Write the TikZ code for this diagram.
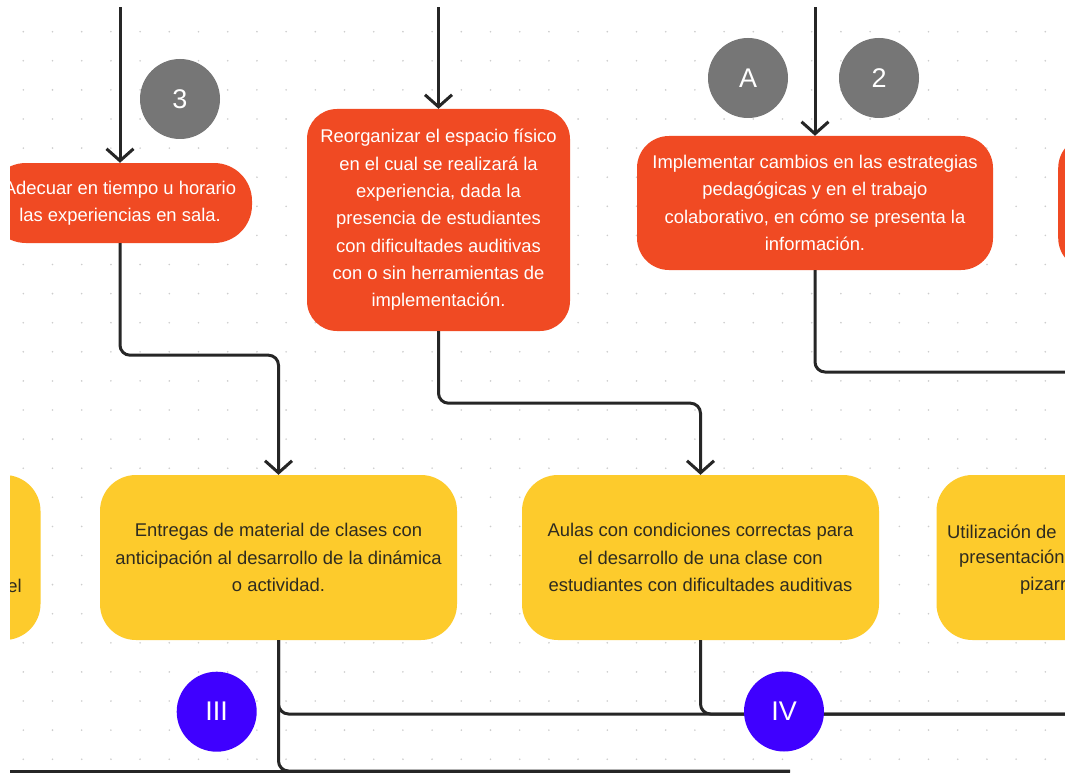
\documentclass[tikz,border=0pt]{standalone}
\usepackage{fontspec}
\setmainfont{Liberation Sans}
\usetikzlibrary{arrows.meta}
\definecolor{redc}{HTML}{F04A23}
\definecolor{yelc}{HTML}{FDCB2C}
\definecolor{grayc}{HTML}{767676}
\definecolor{bluec}{HTML}{3F00FF}
\definecolor{dotc}{HTML}{CDCDCD}
\definecolor{linec}{HTML}{262626}
\definecolor{txtd}{HTML}{2E2B20}
\begin{document}
\begin{tikzpicture}[x=1pt,y=-1pt,
  conn/.style={draw=linec, line width=3pt, rounded corners=10pt},
  arr/.style={conn, -{Straight Barb[length=12pt,width=27pt]}},
  redbox/.style={rectangle, rounded corners=30pt, fill=redc, text=white, align=center, inner sep=0pt, font={\fontsize{18.4pt}{27.3pt}\selectfont}},
  yelbox/.style={rectangle, rounded corners=36pt, fill=yelc, text=txtd, align=center, inner sep=0pt, minimum width=357pt, minimum height=165pt, font={\fontsize{18.4pt}{27.3pt}\selectfont}},
  yeltxt/.style={text=txtd, inner sep=0pt, font={\fontsize{18.4pt}{27.3pt}\selectfont}},
  badge/.style={circle, minimum size=80pt, inner sep=0pt, text=white, font={\fontsize{27pt}{32pt}\selectfont}},
]
\useasboundingbox[fill=white] (0,0) rectangle (1065,773);
\begin{scope}
\clip (10,8) rectangle (1065,773);
% dot grid
\foreach \i in {0,...,36} {
  \foreach \j in {0,...,26} {
    \fill[dotc] ({23.3+\i*29.2},{31.7+\j*29.1}) circle[radius=0.9pt];
  }
}
% boxes
\node[redbox, minimum width=264pt, minimum height=80pt, rounded corners=38pt] (adecuar) at (120,203) {Adecuar en tiempo u horario\\las experiencias en sala.};
\node[redbox, minimum width=263pt, minimum height=222pt] (reorg) at (438.5,220) {Reorganizar el espacio físico\\en el cual se realizará la\\experiencia, dada la\\presencia de estudiantes\\con dificultades auditivas\\con o sin herramientas de\\implementación.};
\node[redbox, minimum width=356pt, minimum height=134pt, rounded corners=32pt] (impl) at (815,203) {Implementar cambios en las estrategias\\pedagógicas y en el trabajo\\colaborativo, en cómo se presenta la\\información.};
\node[redbox, minimum width=356pt, minimum height=134pt, rounded corners=32pt, anchor=west] (redR) at (1058,203) {};

\node[yelbox] (yleft) at (-138,557.5) {};
\node[yeltxt, anchor=east] (yleftel) at (22,586) {el};
\node[yelbox] (entregas) at (278.5,557.5) {Entregas de material de clases con\\anticipación al desarrollo de la dinámica\\o actividad.};
\node[yelbox] (aulas) at (700.5,557.5) {Aulas con condiciones correctas para\\el desarrollo de una clase con\\estudiantes con dificultades auditivas};
\node[yelbox] (util) at (1115,557.5) {};
\node[yeltxt, anchor=west] (util1) at (947,532) {Utilización de};
\node[yeltxt, anchor=west] (util2) at (959,559) {presentación};
\node[yeltxt, anchor=west] (util3) at (1020,586) {pizarra};

% connector ends
\coordinate (s1) at (120,0);
\coordinate (s2) at (438.5,0);
\coordinate (s3) at (815,0);
\coordinate (e1) at (1075,372);
\coordinate (e2) at (1075,714);
\coordinate (lb) at (0,771);
\coordinate (be) at (790,771);

% connectors
\draw[arr] (s1) -- (adecuar.north);
\draw[arr] (adecuar.south) -- ++(0,112) -| (entregas.north);
\draw[arr] (s2) -- (reorg.north);
\draw[arr] (reorg.south) -- ++(0,72) -| (aulas.north);
\draw[arr] (s3) -- (impl.north);
\draw[conn] (impl.south) |- (e1);
\draw[conn] (entregas.south) |- (e2);
\draw[conn] (aulas.south) |- (e2);
\draw[conn] (entregas.south) |- (be);
\draw[conn] (lb) -- (be);

% badges
\node[badge, fill=grayc] (b3) at (180,99) {3};
\node[badge, fill=grayc] (bA) at (748,78) {A};
\node[badge, fill=grayc] (b2) at (879,78) {2};
\node[badge, fill=bluec] (bIII) at (216.7,711.7) {III};
\node[badge, fill=bluec] (bIV) at (784,711.5) {IV};
\end{scope}
\end{tikzpicture}
\end{document}
